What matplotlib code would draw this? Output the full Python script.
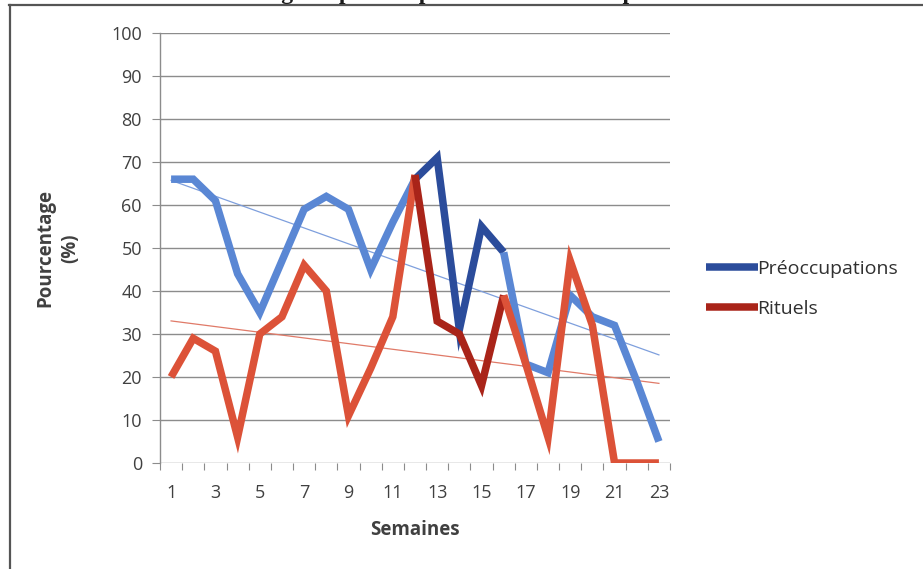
import matplotlib
matplotlib.use("Agg")
import matplotlib.pyplot as plt
import numpy as np
from matplotlib.lines import Line2D

plt.rcParams['font.family'] = ['Open Sans', 'DejaVu Sans']

# Weekly percentages
weeks = list(range(1, 24))
preoccupations = [66, 66, 61, 44, 35, 47, 59, 62, 59, 45, 56, 66, 71, 31, 55, 49, 23, 21, 39, 34, 32, 19, 5]
rituels = [20, 29, 26, 6, 30, 34, 46, 40, 11, 22, 34, 67, 33, 30, 18, 39, 23, 6, 47, 32, 0, 0, 0]
y_ticks = list(range(0, 101, 10))
x_tick_labels = [str(w) for w in range(1, 24, 2)]

series_names = ["Préoccupations", "Rituels"]
light_colors = ["#5A87D4", "#DC5238"]
dark_colors = ["#2B4C9B", "#A92419"]
trend_colors = ["#7E9FDD", "#E07A68"]
# weeks 12 to 16 are drawn in the darker shade
dark_span = (12, 16)

W, H = 923, 569
fig = plt.figure(figsize=(W / 100, H / 100), dpi=100)
fig.patch.set_facecolor("white")

ax = fig.add_axes([160 / W, 1 - 463 / H, 510 / W, 430 / H])
ax.set_xlim(0.5, 23.5)
ax.set_ylim(0, 100)

grid_color = "#8C8C8C"
text_color = "#404040"
for v in y_ticks:
    ax.axhline(v, color=grid_color, lw=1.0, zorder=1)

x = np.array(weeks)
for k, vals in enumerate([preoccupations, rituels]):
    vals = np.array(vals)
    # linear trend line
    slope, intercept = np.polyfit(x, vals, 1)
    ax.plot(x, slope * x + intercept, color=trend_colors[k], lw=0.9, zorder=2)

for k, vals in enumerate([preoccupations, rituels]):
    vals = np.array(vals)
    z = 3 + k
    lo, hi = dark_span
    i0, i1 = lo - 1, hi - 1
    style = dict(lw=5.4, solid_joinstyle="miter", solid_capstyle="butt", zorder=z)
    ax.plot(x[: i0 + 1], vals[: i0 + 1], color=light_colors[k], **style)
    ax.plot(x[i0: i1 + 1], vals[i0: i1 + 1], color=dark_colors[k], **style)
    ax.plot(x[i1:], vals[i1:], color=light_colors[k], **style)

for s in ["top", "right", "bottom"]:
    ax.spines[s].set_visible(False)
ax.spines["left"].set_color(grid_color)
ax.spines["left"].set_linewidth(1.0)

ax.set_yticks(y_ticks)
ax.tick_params(axis="y", direction="out", length=6, color=grid_color,
               labelsize=13, labelcolor=text_color, pad=7)

# category boundaries carry the tick marks, labels sit on every other week
ax.set_xticks(np.arange(0.5, 24.0, 1.0))
ax.set_xticklabels([])
ax.tick_params(axis="x", direction="out", length=5, color=grid_color)
ax.set_xticks(range(1, 24, 2), minor=True)
ax.set_xticklabels(x_tick_labels, minor=True)
ax.tick_params(axis="x", which="minor", length=0, labelsize=13,
               labelcolor=text_color, pad=15)

ax.set_xlabel("Semaines", fontsize=13.5, fontweight="bold", color=text_color, labelpad=13)
ax.set_ylabel("Pourcentage\n(%)", fontsize=13.5, fontweight="bold", color=text_color,
              labelpad=22, linespacing=1.35)

handles = [Line2D([], [], color=dark_colors[0], lw=5.4, solid_capstyle="butt"),
           Line2D([], [], color=dark_colors[1], lw=5.4, solid_capstyle="butt")]
fig.legend(handles, series_names, loc="center left",
           bbox_to_anchor=(706 / W, 1 - 289 / H), frameon=False, borderpad=0,
           borderaxespad=0, fontsize=14, handlelength=2.65, handletextpad=0.0,
           labelspacing=1.15, labelcolor="#303030")

# outer frame (only left and top edges fall inside the image)
fig.add_artist(Line2D([9.5 / W, 9.5 / W], [0, 1 - 5 / H], transform=fig.transFigure,
                      color="#555555", lw=1.6))
fig.add_artist(Line2D([9 / W, 1], [1 - 5 / H, 1 - 5 / H], transform=fig.transFigure,
                      color="#555555", lw=1.6))

# heading sitting above the frame; only its descenders reach into the image
fig.text(0.5, 1 + 1.5 / H, "Pourcentage de préoccupations et de rituels par semaine",
         ha="center", va="baseline", fontsize=17, fontweight="bold",
         family=["Liberation Serif", "DejaVu Serif"], color="#1a1a1a")

fig.savefig("out.png", dpi=100, facecolor="white")
